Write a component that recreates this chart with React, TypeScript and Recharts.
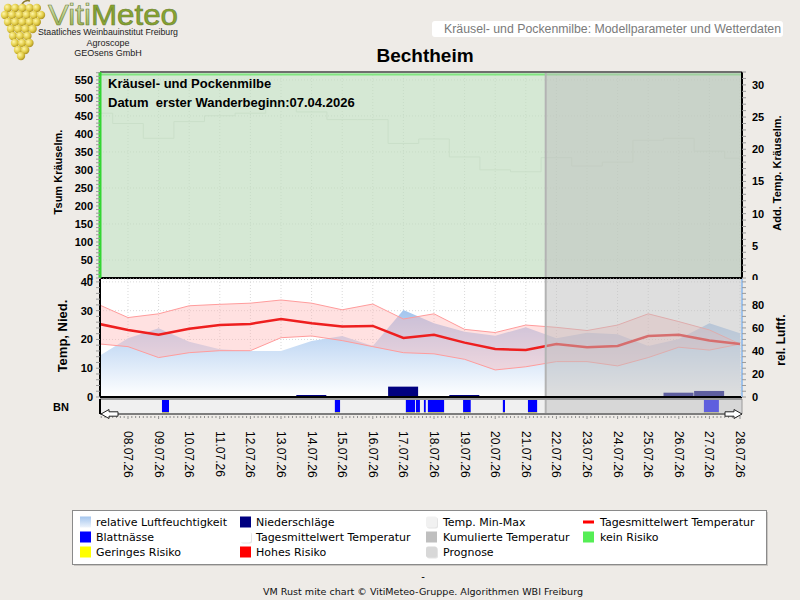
import React from 'react';
import {
  ComposedChart,
  Line,
  Area,
  Bar,
  XAxis,
  YAxis,
  CartesianGrid,
  ReferenceArea,
  ReferenceLine,
} from 'recharts';

// ---------- data (day index 0 = 07.07.26) ----------
const dayLabels = [
  '07.07.26', '08.07.26', '09.07.26', '10.07.26', '11.07.26', '12.07.26',
  '13.07.26', '14.07.26', '15.07.26', '16.07.26', '17.07.26', '18.07.26',
  '19.07.26', '20.07.26', '21.07.26', '22.07.26', '23.07.26', '24.07.26',
  '25.07.26', '26.07.26', '27.07.26', '28.07.26',
];
const tempMean = [25.5, 23.3, 21.6, 23.7, 25.0, 25.4, 27.1, 25.6, 24.5, 24.7, 20.5, 21.6, 18.9, 16.7, 16.3, 18.4, 17.3, 17.7, 21.2, 21.6, 19.6, 18.4];
const tempMax = [32.3, 27.6, 28.9, 31.7, 32.2, 32.6, 33.7, 32.6, 30.3, 32.3, 27.1, 28.9, 23.5, 22.4, 25.0, 24.2, 23.1, 25.0, 28.9, 26.2, 23.3, 18.4];
const tempMin = [18.5, 17.5, 13.7, 15.4, 16.1, 16.1, 20.6, 21.2, 19.6, 17.5, 15.4, 15.0, 13.1, 9.4, 10.5, 12.3, 12.3, 10.8, 13.7, 17.3, 16.3, 18.4];
const humidity = [34.6, 51, 59.7, 48, 41.4, 40, 40, 48.7, 53, 44.3, 75.6, 64, 56.7, 53.3, 60.6, 51, 55.9, 54.5, 44.3, 50.4, 64, 55.3];
const precipitation: (number | null)[] = [null, null, null, null, null, null, null, 0.7, null, null, 3.6, null, 0.7, null, null, null, null, null, null, 1.5, 2.1, null];
const addTemp = [25.6, 24.0, 21.7, 24.3, 25.2, 25.6, 27.2, 25.8, 24.6, 24.6, 20.9, 21.6, 18.8, 16.8, 16.5, 18.7, 17.4, 18.0, 21.4, 21.7, 19.7, 18.6];
// leaf wetness periods, [start, end] in days
const leafWetness: [number, number][] = [
  [2.11, 2.34], [7.76, 7.93], [10.08, 10.38], [10.41, 10.54], [10.67, 10.73],
  [10.8, 11.33], [11.95, 12.2], [13.25, 13.32], [14.07, 14.37], [19.82, 20.31],
];
const forecastStart = 14.65;
const riskLevel = 565;
const xDomain: [number, number] = [0.085, 21.065];

const rows = dayLabels.map((label, i) => ({
  d: i,
  label,
  tmean: tempMean[i],
  tmax: tempMax[i],
  tmin: tempMin[i],
  band: [tempMin[i], tempMax[i]],
  hum: humidity[i],
  precip: precipitation[i],
  add: addTemp[i],
}));

const dayTicks = Array.from({ length: 21 }, (_, i) => i + 1);
const hourTicks = Array.from({ length: 168 }, (_, k) => (k + 1) / 8);
const stepTicks = (max: number, step: number) =>
  Array.from({ length: Math.floor(max / step) + 1 }, (_, i) => i * step);

const ARIAL = "'Liberation Sans', Arial, sans-serif";
const DEJAVU = "'DejaVu Sans', sans-serif";
const W = 800;

const numberTick = (step: number, maxLabel: number, anchor: 'start' | 'end') => (props: any) => {
  const { x, y, payload } = props;
  const v = payload.value;
  if (Math.abs(v / step - Math.round(v / step)) > 1e-6 || v > maxLabel) return <g />;
  return (
    <text x={x} y={y} dy={4} textAnchor={anchor} fontSize={11} fontWeight="bold" fill="#000" fontFamily={ARIAL}>
      {v}
    </text>
  );
};

const dateTick = (props: any) => {
  const { x, y, payload } = props;
  const v = payload.value;
  const isDay = Math.abs(v - Math.round(v)) < 1e-6;
  return (
    <g>
      <line x1={x} x2={x} y1={y + 2} y2={y + (isDay ? 5 : 4)} stroke="#8f8f8f" strokeWidth={1} />
      {isDay && (
        <text
          transform={`translate(${x - 4},${y + 17}) rotate(90)`}
          fontSize={12}
          fill="#000"
          fontFamily={ARIAL}
        >
          {dayLabels[Math.round(v)]}
        </text>
      )}
    </g>
  );
};

const overlayProps = { fill: '#bdbdbd', fillOpacity: 0.5, stroke: 'none' };

function ModelPanel() {
  return (
    <ComposedChart width={W} height={280} data={rows} margin={{ top: 72, right: 0, bottom: 2, left: 0 }}>
      <CartesianGrid yAxisId="grid" fill="#d5e8d4" stroke="#c8dcc7" strokeDasharray="1 2" />
      <XAxis type="number" dataKey="d" domain={xDomain} allowDataOverflow ticks={dayTicks} hide />
      <YAxis
        yAxisId="l"
        domain={[0, 572]}
        allowDataOverflow
        ticks={stepTicks(570, 10)}
        interval={0}
        width={100}
        axisLine={{ stroke: '#33d633', strokeWidth: 3 }}
        tickLine={{ stroke: '#9a9a9a' }}
        tickSize={4}
        tickMargin={3}
        tick={numberTick(50, 550, 'end')}
      />
      <YAxis yAxisId="grid" domain={[0, 572]} allowDataOverflow ticks={stepTicks(550, 50)} width={0} hide />
      <YAxis
        yAxisId="r"
        orientation="right"
        domain={[0, 32]}
        allowDataOverflow
        ticks={stepTicks(32, 1)}
        interval={0}
        width={58}
        axisLine={{ stroke: '#000', strokeWidth: 2 }}
        tickLine={{ stroke: '#9a9a9a' }}
        tickSize={4}
        tickMargin={6}
        tick={numberTick(5, 30, 'start')}
      />
      <ReferenceLine yAxisId="l" y={riskLevel} stroke="#80e680" strokeWidth={2} />
      <Line
        yAxisId="r"
        type="step"
        dataKey="add"
        stroke="#cadfc9"
        strokeWidth={1}
        dot={false}
        isAnimationActive={false}
      />
      <ReferenceArea yAxisId="l" x1={forecastStart} x2={xDomain[1]} {...overlayProps} zIndex={450} />
      <ReferenceLine yAxisId="l" x={forecastStart} stroke="#b3b3b3" strokeWidth={2} zIndex={460} />
      <ReferenceLine yAxisId="l" y={572} stroke="#6e6e6e" strokeWidth={2} zIndex={470} />
      <ReferenceLine yAxisId="l" y={0} stroke="#000" strokeWidth={2} zIndex={470} />
    </ComposedChart>
  );
}

function WeatherPanel() {
  return (
    <ComposedChart width={W} height={420} data={rows} margin={{ top: 279, right: 0, bottom: 23, left: 0 }}>
      <defs>
        <linearGradient id="humFill" x1="0" y1="0" x2="0" y2="1">
          <stop offset="0" stopColor="#a3c5ee" />
          <stop offset="1" stopColor="#ffffff" />
        </linearGradient>
      </defs>
      <CartesianGrid yAxisId="grid" fill="#ffffff" stroke="#d9d9d9" strokeDasharray="1 2" />
      <XAxis type="number" dataKey="d" domain={xDomain} allowDataOverflow ticks={dayTicks} hide />
      <YAxis
        yAxisId="l"
        domain={[0, 41]}
        allowDataOverflow
        ticks={stepTicks(40, 2)}
        interval={0}
        width={100}
        axisLine={{ stroke: '#000', strokeWidth: 2 }}
        tickLine={{ stroke: '#9a9a9a' }}
        tickSize={4}
        tickMargin={3}
        tick={numberTick(10, 40, 'end')}
      />
      <YAxis yAxisId="grid" domain={[0, 41]} allowDataOverflow ticks={[10, 20, 30, 40]} width={0} hide />
      <YAxis
        yAxisId="r"
        orientation="right"
        domain={[0, 102.5]}
        allowDataOverflow
        ticks={stepTicks(100, 5)}
        interval={0}
        width={58}
        axisLine={{ stroke: '#9fc2ea', strokeWidth: 2 }}
        tickLine={{ stroke: '#9a9a9a' }}
        tickSize={4}
        tickMargin={6}
        tick={numberTick(20, 80, 'start')}
      />
      <Area
        yAxisId="r"
        type="linear"
        dataKey="hum"
        stroke="none"
        fill="url(#humFill)"
        fillOpacity={1}
        isAnimationActive={false}
      />
      <Area
        yAxisId="l"
        type="linear"
        dataKey="band"
        stroke="none"
        fill="#ffb4b4"
        fillOpacity={0.4}
        isAnimationActive={false}
      />
      <Line yAxisId="l" type="linear" dataKey="tmax" stroke="#ff9c9c" strokeWidth={1} dot={false} isAnimationActive={false} />
      <Line yAxisId="l" type="linear" dataKey="tmin" stroke="#ff9c9c" strokeWidth={1} dot={false} isAnimationActive={false} />
      <Line yAxisId="l" type="linear" dataKey="tmean" stroke="#ee1f1f" strokeWidth={2.5} dot={false} isAnimationActive={false} />
      <Bar yAxisId="l" dataKey="precip" fill="#000080" barSize={30} isAnimationActive={false} />
      <ReferenceArea yAxisId="l" x1={forecastStart} x2={xDomain[1]} {...overlayProps} zIndex={450} />
      <ReferenceLine yAxisId="l" x={forecastStart} stroke="#b3b3b3" strokeWidth={2} zIndex={460} />
      <ReferenceLine yAxisId="l" y={0} stroke="#000" strokeWidth={2} zIndex={470} />
    </ComposedChart>
  );
}

function WetnessPanel() {
  return (
    <ComposedChart width={W} height={600} data={rows} margin={{ top: 399, right: 0, bottom: 126, left: 0 }}>
      <CartesianGrid fill="#f0f0f0" horizontal={false} vertical={false} />
      <XAxis
        type="number"
        dataKey="d"
        domain={xDomain}
        allowDataOverflow
        ticks={hourTicks}
        interval={0}
        height={60}
        tickLine={false}
        tickSize={0}
        tickMargin={0}
        axisLine={{ stroke: '#7d7d7d', strokeWidth: 2 }}
        tick={dateTick}
      />
      <YAxis type="number" domain={[0, 1]} allowDataOverflow width={100} tick={false} tickLine={false} axisLine={{ stroke: '#000', strokeWidth: 2 }} />
      <YAxis yAxisId="r" type="number" orientation="right" domain={[0, 1]} allowDataOverflow width={58} tick={false} tickLine={false} axisLine={{ stroke: '#9a9a9a', strokeWidth: 1 }} />
      {leafWetness.map(([a, b], i) => (
        <ReferenceArea key={`bn${i}`} x1={a} x2={b} y1={0.1} y2={1} fill="#0000ff" fillOpacity={1} stroke="none" />
      ))}
      {leafWetness.map(([a, b], i) => (
        <ReferenceArea key={`rk${i}`} x1={a} x2={b} y1={0} y2={0.1} fill="#ffff00" fillOpacity={1} stroke="none" />
      ))}
      <ReferenceArea x1={forecastStart} x2={xDomain[1]} y1={0} y2={1} {...overlayProps} zIndex={450} />
      <ReferenceLine x={forecastStart} stroke="#b3b3b3" strokeWidth={2} zIndex={460} />
      <ReferenceLine y={1} stroke="#9a9a9a" strokeWidth={2} zIndex={470} />
    </ComposedChart>
  );
}

// grape cluster of the VitiMeteo logo: [rowY, firstX, count]
const grapeRows: [number, number, number][] = [
  [8, 8, 5], [15, 5, 6], [22, 8, 5], [29, 11, 4], [36, 13, 3], [43, 15, 3], [50, 18, 2], [56, 21, 1],
];

const legendItems: { col: number; row: number; label: string; kind: string; color: string }[] = [
  { col: 0, row: 0, label: 'relative Luftfeuchtigkeit', kind: 'grad', color: '#a3c5ee' },
  { col: 1, row: 0, label: 'Niederschläge', kind: 'box', color: '#000080' },
  { col: 2, row: 0, label: 'Temp. Min-Max', kind: 'soft', color: '#f1f1f1' },
  { col: 3, row: 0, label: 'Tagesmittelwert Temperatur', kind: 'line', color: '#ff0000' },
  { col: 0, row: 1, label: 'Blattnässe', kind: 'box', color: '#0000ff' },
  { col: 1, row: 1, label: 'Tagesmittelwert Temperatur', kind: 'soft', color: '#ffffff' },
  { col: 2, row: 1, label: 'Kumulierte Temperatur', kind: 'box', color: '#bfbfbf' },
  { col: 3, row: 1, label: 'kein Risiko', kind: 'box', color: '#55ee55' },
  { col: 0, row: 2, label: 'Geringes Risiko', kind: 'box', color: '#ffff00' },
  { col: 1, row: 2, label: 'Hohes Risiko', kind: 'box', color: '#ff0000' },
  { col: 2, row: 2, label: 'Prognose', kind: 'soft', color: '#d8d8d8' },
];
const legendIconX = [80, 240, 426, 583];
const legendTextX = [96, 256, 443, 600];
const legendRowY = [522, 537, 552];

function Decorations() {
  return (
    <svg width={W} height={600} style={{ position: 'absolute', left: 0, top: 0 }}>
      <defs>
        <radialGradient id="grape" cx="0.35" cy="0.35" r="0.7">
          <stop offset="0" stopColor="#fff6a8" />
          <stop offset="0.6" stopColor="#e1cb45" />
          <stop offset="1" stopColor="#a88d1e" />
        </radialGradient>
        <linearGradient id="vitiFill" x1="0" y1="0" x2="0" y2="1">
          <stop offset="0" stopColor="#e6efd0" />
          <stop offset="1" stopColor="#8eaa3c" />
        </linearGradient>
        <linearGradient id="legendHum" x1="0" y1="0" x2="0" y2="1">
          <stop offset="0" stopColor="#a3c5ee" />
          <stop offset="1" stopColor="#eef4fc" />
        </linearGradient>
      </defs>
      <rect x={0} y={0} width={W} height={600} fill="#eeebe7" />

      {/* logo */}
      <path d="M22 4 C24 1 27 0 30 1" stroke="#8a7a2a" strokeWidth={1.5} fill="none" />
      {grapeRows.map(([cy, x0, n], r) =>
        Array.from({ length: n }, (_, k) => (
          <circle key={`g${r}-${k}`} cx={x0 + k * 7.2} cy={cy} r={4.2} fill="url(#grape)" />
        ))
      )}
      <text x={48} y={25} fontSize={29} fontFamily={ARIAL} textLength={130} lengthAdjust="spacingAndGlyphs" stroke="#6d7f35" strokeWidth={0.6}>
        <tspan fill="url(#vitiFill)">Viti</tspan>
        <tspan fill="#86a52f">Meteo</tspan>
      </text>
      <text x={38} y={35} fontSize={9} fontFamily={ARIAL} fill="#222" textLength={140} lengthAdjust="spacingAndGlyphs">
        Staatliches Weinbauinstitut Freiburg
      </text>
      <text x={108} y={45.5} fontSize={9} fontFamily={ARIAL} fill="#222" textAnchor="middle">Agroscope</text>
      <text x={108} y={56} fontSize={9} fontFamily={ARIAL} fill="#222" textAnchor="middle">GEOsens GmbH</text>

      {/* header */}
      <rect x={432} y={21} width={351} height={16} rx={3} fill="#ffffff" />
      <text x={781} y={33} fontSize={12} fontFamily={ARIAL} fill="#7a7a7a" textAnchor="end" textLength={337} lengthAdjust="spacingAndGlyphs">
        Kräusel- und Pockenmilbe: Modellparameter und Wetterdaten
      </text>
      <text x={425} y={62} fontSize={19} fontWeight="bold" fontFamily={ARIAL} fill="#000" textAnchor="middle">
        Bechtheim
      </text>

      {/* axis titles */}
      <text transform="translate(62,172) rotate(-90)" fontSize={11} fontWeight="bold" fontFamily={ARIAL} textAnchor="middle">Tsum Kräuselm.</text>
      <text transform="translate(781,173) rotate(-90)" fontSize={11} fontWeight="bold" fontFamily={ARIAL} textAnchor="middle">Add. Temp. Kräuselm.</text>
      <text transform="translate(67,336) rotate(-90)" fontSize={13} fontWeight="bold" fontFamily={ARIAL} textAnchor="middle">Temp, Nied.</text>
      <text transform="translate(785,340) rotate(-90)" fontSize={12} fontWeight="bold" fontFamily={ARIAL} textAnchor="middle">rel. Luftf.</text>
      <text x={53} y={411} fontSize={11} fontWeight="bold" fontFamily={ARIAL}>BN</text>

      {/* legend */}
      <rect x={74} y={512} width={694} height={54} fill="#c9c6c2" />
      <rect x={72.5} y={510.5} width={694} height={54} fill="#ffffff" stroke="#8a8a8a" />
      {legendItems.map((it, i) => {
        const ix = legendIconX[it.col];
        const cy = legendRowY[it.row];
        let icon: React.ReactNode;
        if (it.kind === 'line') {
          icon = <rect x={ix} y={cy - 1.5} width={11} height={3} fill={it.color} />;
        } else if (it.kind === 'grad') {
          icon = <rect x={ix} y={cy - 5.5} width={11} height={11} fill="url(#legendHum)" />;
        } else if (it.kind === 'soft') {
          icon = (
            <g>
              <rect x={ix + 1} y={cy - 4.5} width={11} height={11} rx={2} fill="#e4e4e4" />
              <rect x={ix} y={cy - 5.5} width={11} height={11} rx={2} fill={it.color} />
            </g>
          );
        } else {
          icon = <rect x={ix} y={cy - 5.5} width={11} height={11} fill={it.color} />;
        }
        return (
          <g key={`lg${i}`}>
            {icon}
            <text x={legendTextX[it.col]} y={cy + 4} fontSize={11} fontFamily={DEJAVU} fill="#000">
              {it.label}
            </text>
          </g>
        );
      })}

      {/* footer */}
      <text x={423} y={580} fontSize={10} fontFamily={DEJAVU} textAnchor="middle">-</text>
      <text x={263} y={595} fontSize={9} fontFamily={DEJAVU} fill="#111" textLength={320} lengthAdjust="spacingAndGlyphs">
        VM Rust mite chart © VitiMeteo-Gruppe. Algorithmen WBI Freiburg
      </text>
    </svg>
  );
}

function PanelTexts() {
  return (
    <svg width={W} height={600} style={{ position: 'absolute', left: 0, top: 0, pointerEvents: 'none' }}>
      {/* model panel caption */}
      <text x={108} y={88} fontSize={13} fontWeight="bold" fontFamily={ARIAL} fill="#000">
        Kräusel- und Pockenmilbe
      </text>
      <text x={108} y={107} fontSize={13} fontWeight="bold" fontFamily={ARIAL} fill="#000" style={{ whiteSpace: 'pre' }}>
        {'Datum  erster Wanderbeginn:07.04.2026'}
      </text>
      {/* x axis arrows */}
      <path
        d="M101 414 L109 409.5 L109 411.8 L118 411.8 L118 416.2 L109 416.2 L109 418.5 Z"
        fill="#ffffff"
        stroke="#222"
        strokeWidth={1}
      />
      <path
        d="M742 414 L734 409.5 L734 411.8 L725 411.8 L725 416.2 L734 416.2 L734 418.5 Z"
        fill="#ffffff"
        stroke="#222"
        strokeWidth={1}
      />
    </svg>
  );
}

export default function App() {
  return (
    <div style={{ position: 'absolute', left: 0, top: 0, width: W, height: 600, overflow: 'hidden', background: '#eeebe7' }}>
      <Decorations />
      <div style={{ position: 'absolute', left: 0, top: 0 }}>
        <ModelPanel />
      </div>
      <div style={{ position: 'absolute', left: 0, top: 0 }}>
        <WeatherPanel />
      </div>
      <div style={{ position: 'absolute', left: 0, top: 0 }}>
        <WetnessPanel />
      </div>
      <PanelTexts />
    </div>
  );
}
